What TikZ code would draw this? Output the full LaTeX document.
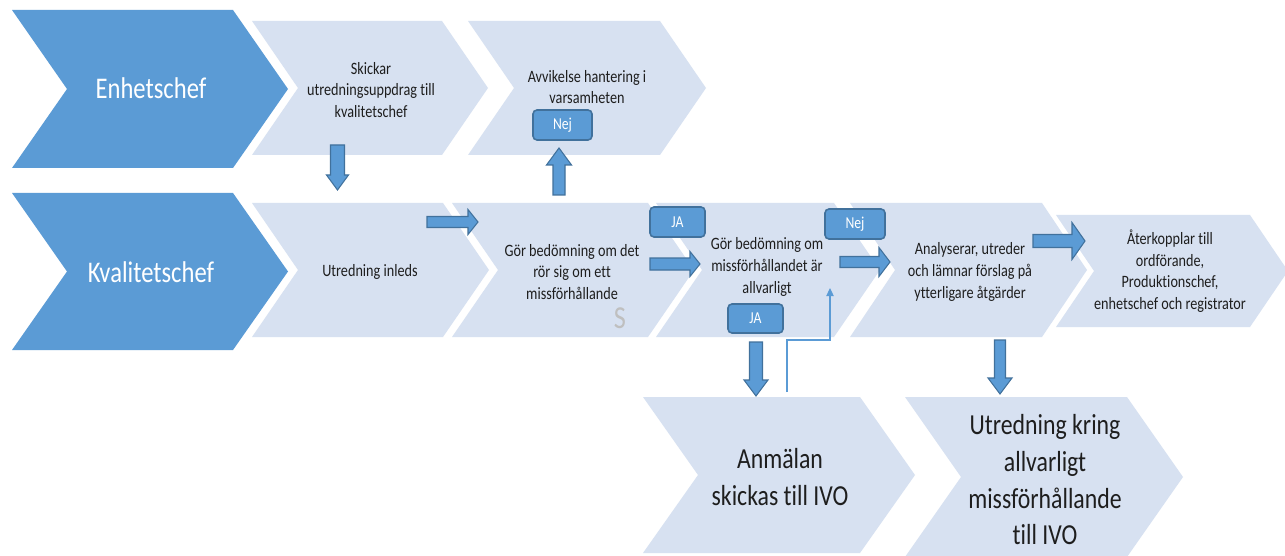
\documentclass[tikz,border=0pt]{standalone}
\usepackage{fontspec}
\setmainfont{Carlito}[FakeStretch=0.82,Ligatures=NoCommon]
\usetikzlibrary{arrows.meta,calc}
\definecolor{darkb}{HTML}{5B9BD5}
\definecolor{lightb}{HTML}{D7E1F1}
\definecolor{borderb}{HTML}{41719C}
\definecolor{txt}{HTML}{1E1E1E}
\definecolor{sgray}{HTML}{BFBFBF}
\tikzset{
  darkchev/.style={fill=darkb},
  lightchev/.style={fill=lightb},
  bigwhite/.style={text=white,font=\fontsize{22.5}{27}\selectfont,inner sep=0pt},
  smalltxt/.style={text=txt,align=center,font=\fontsize{13}{16.25}\selectfont,inner sep=0pt},
  bottomtxt/.style={text=txt,align=center,font=\fontsize{21.75}{27.5}\selectfont,inner sep=0pt},
  tagbox/.style={fill=darkb,draw=borderb,line width=1.2pt,rounded corners=3pt,text=white,
     font=\fontsize{12.5}{14}\selectfont,inner sep=0pt},
  barrow/.style={fill=darkb,draw=borderb,line width=0.8pt,line join=miter},
  thinconn/.style={draw=darkb,line width=0.8pt,-{Triangle[length=6pt,width=5.5pt]}},
}
% chevron: #1 style, #2 left x, #3 top y, #4 top-right x, #5 bottom y, #6 depth
\newcommand\chevron[6]{%
  \fill[#1] (#2,#3) -- (#4,#3) -- ({#4+#6},{(#3+#5)/2}) -- (#4,#5) -- (#2,#5) -- ({#2+#6},{(#3+#5)/2}) -- cycle;}
% right block arrow: #1 start, #2 end, #3 shaft half, #4 head half, #5 head length (px)
\newcommand\harr[5]{%
  \draw[barrow] let \p1=(#1), \p2=(#2) in
  ({\x1},{\y1+#3*0.75pt}) -- ({\x2-#5*0.75pt},{\y1+#3*0.75pt}) -- ({\x2-#5*0.75pt},{\y1+#4*0.75pt}) -- ({\x2},{\y1})
  -- ({\x2-#5*0.75pt},{\y1-#4*0.75pt}) -- ({\x2-#5*0.75pt},{\y1-#3*0.75pt}) -- ({\x1},{\y1-#3*0.75pt}) -- cycle;}
% vertical block arrow: #6 = 1 for down, -1 for up
\newcommand\varr[6]{%
  \draw[barrow] let \p1=(#1), \p2=(#2) in
  ({\x1-#3*0.75pt},{\y1}) -- ({\x1-#3*0.75pt},{\y2+(#6)*#5*0.75pt}) -- ({\x1-#4*0.75pt},{\y2+(#6)*#5*0.75pt}) -- ({\x1},{\y2})
  -- ({\x1+#4*0.75pt},{\y2+(#6)*#5*0.75pt}) -- ({\x1+#3*0.75pt},{\y2+(#6)*#5*0.75pt}) -- ({\x1+#3*0.75pt},{\y1}) -- cycle;}
\begin{document}
\begin{tikzpicture}[x=0.75pt,y=-0.75pt]
\useasboundingbox (0,0) rectangle (1285,556);
\fill[white] (0,0) rectangle (1285,556);
% lane chevrons
\chevron{darkchev}{12}{10}{233}{168}{55}
\chevron{darkchev}{12}{193}{233}{350}{55}
% step chevrons
\chevron{lightchev}{252}{21}{442}{155}{46}
\chevron{lightchev}{468}{21}{660}{155}{46}
\chevron{lightchev}{252}{203}{443}{337}{46}
\chevron{lightchev}{452}{203}{648}{337}{46}
\chevron{lightchev}{656}{203}{834}{337}{46}
\chevron{lightchev}{850}{203}{1042}{337}{45}
\chevron{lightchev}{1056}{215}{1250}{327}{38}
\chevron{lightchev}{643}{397}{860}{553}{55}
\chevron{lightchev}{905}{397}{1127}{557}{56}
% texts
\node[bigwhite] (ench) at (151,88) {Enhetschef};
\node[bigwhite] (kval) at (151,272) {Kvalitetschef};
\node[smalltxt] (skick) at (371,90) {Skickar\\utredningsuppdrag till\\kvalitetschef};
\node[smalltxt] (avv) at (587,87) {Avvikelse hantering i\\varsamheten};
\node[smalltxt] (utr) at (370,272) {Utredning inleds};
\node[smalltxt] (gor1) at (572,272) {Gör bedömning om det\\rör sig om ett\\missförhållande};
\node[smalltxt] (gor2) at (767,267) {Gör bedömning om\\missförhållandet är\\allvarligt};
\node[smalltxt] (anal) at (970,272) {Analyserar, utreder\\och lämnar förslag på\\ytterligare åtgärder};
\node[smalltxt] (ater) at (1170,271) {Återkopplar till\\ordförande,\\Produktionschef,\\enhetschef och registrator};
\node[bottomtxt] (anm) at (780,477) {Anmälan\\skickas till IVO};
\node[bottomtxt] (utk) at (1045,480) {Utredning kring\\allvarligt\\missförhållande\\till IVO};
\node[text=sgray,font=\fontsize{24}{28}\selectfont,inner sep=0pt] (s) at (620,318) {S};
% tag boxes
\node[tagbox,minimum width=44.25pt,minimum height=22.5pt] (nej1) at (562.5,125) {Nej};
\node[tagbox,minimum width=41.25pt,minimum height=22.5pt] (ja1) at (677.5,222) {JA};
\node[tagbox,minimum width=41.25pt,minimum height=21.75pt] (ja2) at (755.5,318.5) {JA};
\node[tagbox,minimum width=45pt,minimum height=22.5pt] (nej2) at (855,224) {Nej};
% arrow end points
\coordinate (a1s) at (337.5,145); \coordinate (a1e) at (337.5,190);
\coordinate (a2s) at (427,222);   \coordinate (a2e) at (478,222);
\coordinate (a3s) at (559,195);   \coordinate (a3e) at (559,148);
\coordinate (a4s) at (650,264);   \coordinate (a4e) at (700,264);
\coordinate (a5s) at (840,262);   \coordinate (a5e) at (890,262);
\coordinate (a6s) at (1033,241);  \coordinate (a6e) at (1085,241);
\coordinate (a7s) at (756,342);   \coordinate (a7e) at (756,396);
\coordinate (a8s) at (1000,340);  \coordinate (a8e) at (1000,394);
\varr{a1s}{a1e}{7}{11}{15}{1}
\harr{a2s}{a2e}{5.5}{12.5}{10}
\varr{a3s}{a3e}{6}{12.5}{17}{-1}
\harr{a4s}{a4e}{6}{12.5}{10}
\harr{a5s}{a5e}{5.5}{14.5}{11}
\harr{a6s}{a6e}{6.5}{18.5}{13}
\varr{a7s}{a7e}{6.5}{12}{16}{1}
\varr{a8s}{a8e}{5.5}{12}{16}{1}
% thin connector
\coordinate (t0) at (787,392);
\coordinate (t1) at (830,288);
\draw[thinconn] (t0) -- ++(0,-52) -| (t1);
\end{tikzpicture}
\end{document}
